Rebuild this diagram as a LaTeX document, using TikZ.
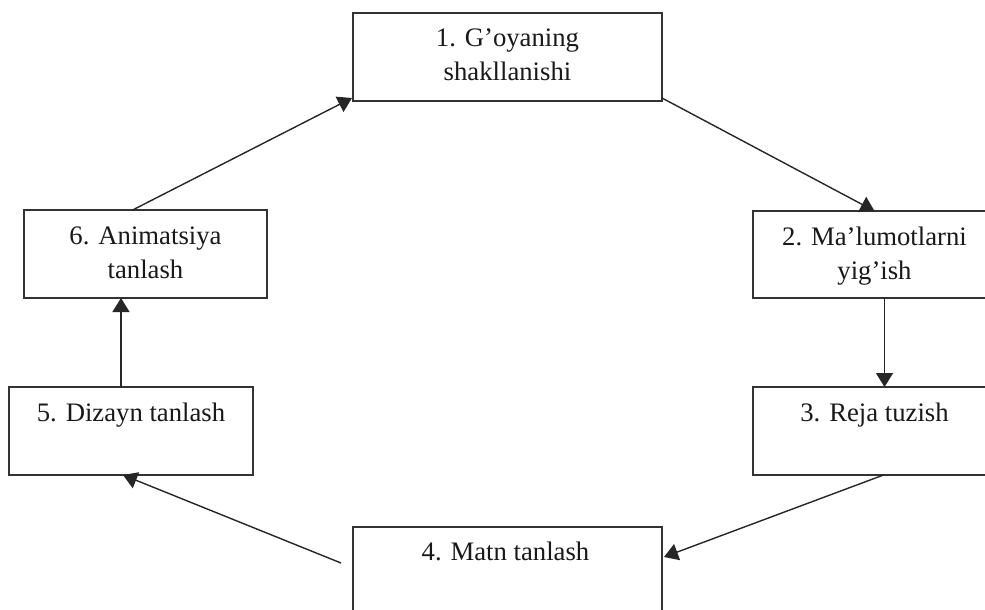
\documentclass[tikz,border=0pt]{standalone}
\usepackage{fontspec}
\setmainfont{Liberation Serif}
\usetikzlibrary{arrows.meta,calc}
\tikzset{
  stagebox/.style={draw=black!80, line width=1.7pt, rectangle, inner sep=0pt, outer sep=0pt, anchor=north west},
  stagetext/.style={anchor=north, inner sep=0pt, align=center, text=black!90, font=\fontsize{26.7}{34}\selectfont},
  flow/.style={draw=black!85, line width=1.4pt, -{Triangle[width=17pt,length=14pt]}},
}
\begin{document}
\begin{tikzpicture}[x=1pt,y=-1pt]
\useasboundingbox (0,0) rectangle (985,610);
\clip (0,0) rectangle (985,610);
% stage boxes
\node[stagebox, minimum width=309pt, minimum height=88pt]  (b1) at (353,13)  {};
\node[stagebox, minimum width=243pt, minimum height=87pt]  (b2) at (753,211) {};
\node[stagebox, minimum width=243pt, minimum height=88pt]  (b3) at (753,387) {};
\node[stagebox, minimum width=309pt, minimum height=100pt] (b4) at (353,527) {};
\node[stagebox, minimum width=244pt, minimum height=88pt]  (b5) at (9,387)   {};
\node[stagebox, minimum width=243pt, minimum height=88pt]  (b6) at (24,210)  {};
% stage labels, set at the top of each box
\node[stagetext] (t1) at ($(b1.north)+(0,10)$) {\strut 1. G’oyaning\\shakllanishi};
\node[stagetext] (t2) at ($(b2.north)+(0,10)$) {\strut 2. Ma’lumotlarni\\yig’ish};
\node[stagetext] (t3) at ($(b3.north)+(0,10)$) {\strut 3. Reja tuzish};
\node[stagetext] (t4) at ($(b4.north)+(-2,9)$) {\strut 4. Matn tanlash};
\node[stagetext] (t5) at ($(b5.north)+(0,10)$) {\strut 5. Dizayn tanlash};
\node[stagetext] (t6) at ($(b6.north)+(0,10)$) {\strut 6. Animatsiya\\tanlash};
% cycle connectors
\draw[flow] ($(b6.north west)!0.447!(b6.north east)$) -- ($(b1.south west)+(-1,-3)$);
\draw[flow] ($(b1.south east)+(0,-3)$) -- (b2.north);
\draw[flow] ($(b2.south)+(10,0)$) -- ($(b3.north)+(10,0)$);
\draw[flow] ($(b3.south)+(9,0)$) -- ($(b4.north east)+(2,30)$);
\draw[flow] ($(b4.north west)+(-12,36)$) -- ($(b5.south)+(-8,0)$);
\draw[flow] ($(b5.north)+(-10,0)$) -- ($(b6.south)+(-24.5,0)$);
\end{tikzpicture}
\end{document}
